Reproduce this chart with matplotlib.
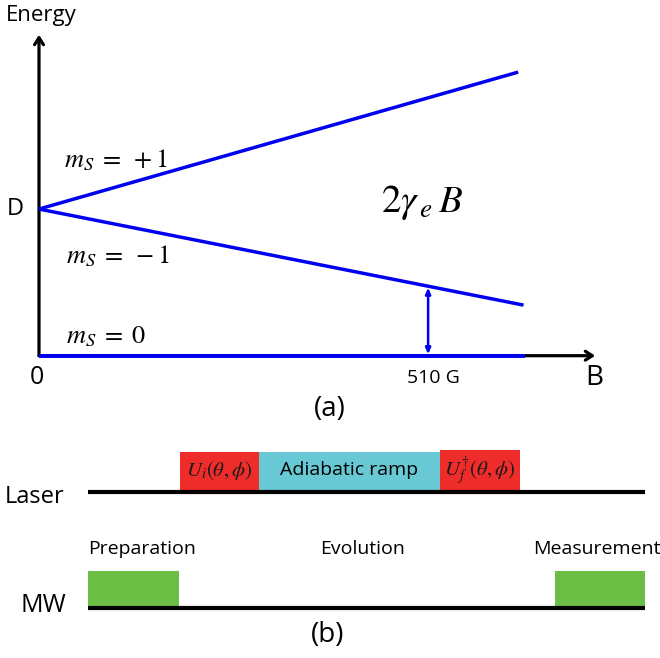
import numpy as np
import matplotlib
matplotlib.use("Agg")
import matplotlib.pyplot as plt
from matplotlib.patches import Rectangle

plt.rcParams['mathtext.fontset'] = 'stix'
SANS = ['Open Sans', 'DejaVu Sans']

# ---------------- data: panel (a) Zeeman levels (schematic) ----------------
D_zfs = 2.87                      # zero-field splitting (GHz)
B_plus = [0, 628]                 # gauss
E_plus = [D_zfs, 5.55]            # m_S = +1
B_minus = [0, 635]
E_minus = [D_zfs, 0.99]           # m_S = -1
B_zero = [0, 637]
E_zero = [0.0, 0.0]               # m_S = 0
B_lac = 510                       # level anti-crossing field (G)
B_axis_max = 729
E_axis_max = 6.28

# ---------------- data: panel (b) pulse sequence ----------------
laser_labels = [r'$U_i(\theta,\phi)$', 'Adiabatic ramp', r'$U_f^{\dagger}(\theta,\phi)$']
laser_start = [9.2, 17.1, 35.2]
laser_end = [17.1, 35.2, 43.2]
mw_start = [0.0, 46.7]
mw_end = [9.1, 55.7]
seq_end = 55.7
phase_labels = ['Preparation', 'Evolution', 'Measurement']

# ---------------- styles ----------------
BLUE = '#0000f0'
RED = '#ee2c2a'
CYAN = '#68c9d4'
GREEN = '#6dbe45'

W, H = 660, 658
fig = plt.figure(figsize=(W / 100, H / 100), dpi=100)

# pixel-to-data mapping for panel (a)
x0a, y0a, sx, sy = 39.0, 355.7, 0.763, 51.1
axa = fig.add_axes([0, (H - 430) / H, 1, 430 / H])
axa.set_xlim((0 - x0a) / sx, (W - x0a) / sx)
axa.set_ylim((y0a - 430) / sy, (y0a - 0) / sy)
axa.axis('off')

def pa(x, y):
    return ((x - x0a) / sx, (y0a - y) / sy)

# axes arrows
arrow_k = dict(arrowstyle='->,head_length=0.5,head_width=0.32',
               lw=2.3, color='black', shrinkA=0, shrinkB=0)
axa.annotate('', xy=(0, E_axis_max), xytext=(0, 0), arrowprops=arrow_k)
axa.annotate('', xy=(B_axis_max, 0), xytext=(0, 0), arrowprops=arrow_k)

# energy levels
axa.plot(B_plus, E_plus, color=BLUE, lw=2.5, solid_capstyle='butt', zorder=3)
axa.plot(B_minus, E_minus, color=BLUE, lw=2.5, solid_capstyle='butt', zorder=3)
axa.plot(B_zero, E_zero, color=BLUE, lw=2.8, solid_capstyle='butt', zorder=3)

# transition arrow at the LAC
E_top = np.interp(B_lac, B_minus, E_minus)
axa.annotate('', xy=(B_lac, E_top), xytext=(B_lac, 0),
             arrowprops=dict(arrowstyle='<|-|>,head_length=0.35,head_width=0.15',
                             lw=1.8, color=BLUE, shrinkA=1, shrinkB=1), zorder=4)

# texts panel (a)
axa.text(*pa(41, 16), 'Energy', family=SANS, fontsize=16, ha='center', va='center')
axa.text(*pa(15, 209), 'D', family=SANS, fontsize=17, ha='center', va='center')
axa.text(*pa(37, 377), '0', family=SANS, fontsize=18, ha='center', va='center')
axa.text(*pa(594, 378), 'B', family=SANS, fontsize=20, ha='center', va='center')
axa.text(*pa(433, 378), '510 G', family=SANS, fontsize=14, ha='center', va='center')
axa.text(*pa(330, 409), '(a)', family=SANS, fontsize=20, ha='center', va='center')
axa.text(*pa(64, 160), r'$m_S\;=\;+1$', fontsize=19, ha='left', va='center')
axa.text(*pa(66, 256), r'$m_S\;=\;-1$', fontsize=19, ha='left', va='center')
axa.text(*pa(66, 336), r'$m_S\;=\;0$', fontsize=19, ha='left', va='center')
axa.text(*pa(381, 203), r'$2\gamma_{\,e}\,B$', fontsize=28, ha='left', va='center')

# ---------------- panel (b) ----------------
x0b, tb = 88.0, 10.0
y0b, ly = 608.0, 116.0
axb = fig.add_axes([0, 0, 1, (H - 430) / H])
axb.set_xlim((0 - x0b) / tb, (W - x0b) / tb)
axb.set_ylim((y0b - H) / ly, (y0b - 430) / ly)
axb.axis('off')

def pb(x, y):
    return ((x - x0b) / tb, (y0b - y) / ly)

laser_level, mw_level = 1.0, 0.0
laser_h = [0.345, 0.345, 0.362]
laser_c = [RED, CYAN, RED]
laser_fs = [15, 14, 15]
for lab, s, e, h, c, fs in zip(laser_labels, laser_start, laser_end, laser_h, laser_c, laser_fs):
    axb.add_patch(Rectangle((s, laser_level), e - s, h, facecolor=c, edgecolor='none', zorder=1))
    if lab.startswith('$'):
        axb.text((s + e) / 2, laser_level + h / 2 + 0.01, lab, fontsize=fs, color='#1a1a1a',
                 ha='center', va='center', zorder=3)
    else:
        axb.text((s + e) / 2, laser_level + h / 2 + 0.02, lab, family=SANS, fontsize=fs,
                 ha='center', va='center', zorder=3)

for s, e in zip(mw_start, mw_end):
    axb.add_patch(Rectangle((s, mw_level), e - s, 0.319, facecolor=GREEN, edgecolor='none', zorder=1))

axb.plot([0, seq_end], [laser_level, laser_level], color='black', lw=3.0, solid_capstyle='butt', zorder=2)
axb.plot([0, seq_end], [mw_level, mw_level], color='black', lw=3.0, solid_capstyle='butt', zorder=2)

axb.text(*pb(35, 497), 'Laser', family=SANS, fontsize=17, ha='center', va='center')
axb.text(*pb(43, 606), 'MW', family=SANS, fontsize=18, ha='center', va='center')
axb.text(*pb(88, 549), phase_labels[0], family=SANS, fontsize=14, ha='left', va='center')
axb.text(*pb(363, 549), phase_labels[1], family=SANS, fontsize=14, ha='center', va='center')
axb.text(*pb(533, 549), phase_labels[2], family=SANS, fontsize=14, ha='left', va='center')
axb.text(*pb(328, 635), '(b)', family=SANS, fontsize=20, ha='center', va='center')

fig.savefig('out.png', dpi=100)
